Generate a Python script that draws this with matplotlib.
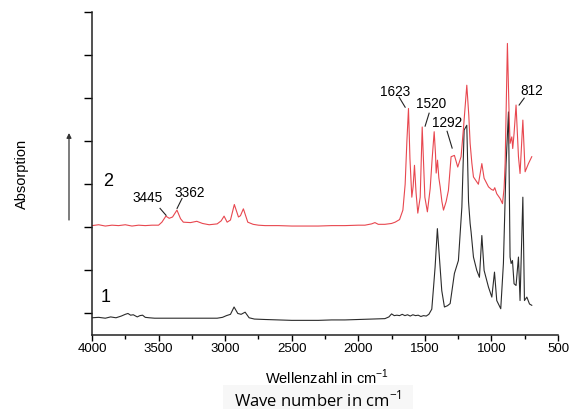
import matplotlib
matplotlib.use("Agg")
import matplotlib.pyplot as plt
from matplotlib.ticker import MultipleLocator

# ---- data (wavenumber in cm^-1, absorption in arbitrary units) ----
red_wn = [4000, 3950, 3900, 3850, 3800, 3750, 3700, 3650, 3600, 3550, 3500, 3475,
          3445, 3420, 3395, 3362, 3335, 3314, 3260, 3213, 3170, 3120, 3060, 3030,
          3008, 2985, 2960, 2931, 2900, 2885, 2863, 2830, 2790, 2750, 2700, 2600,
          2500, 2400, 2300, 2200, 2100, 2000, 1950, 1900, 1875, 1850, 1800, 1750,
          1723, 1690, 1665, 1648, 1635, 1623, 1612, 1598, 1588, 1578, 1566, 1553,
          1535, 1520, 1511, 1500, 1481, 1460, 1445, 1430, 1420, 1415, 1405, 1395,
          1385, 1372, 1360, 1340, 1323, 1303, 1278, 1253, 1228, 1210, 1185, 1170,
          1160, 1147, 1135, 1098, 1072, 1055, 1022, 1000, 985, 975, 960, 935, 917,
          905, 897, 880, 867, 860, 847, 840, 830, 815, 797, 785, 764, 747, 722, 697]
red_ab = [2.04, 2.06, 2.03, 2.05, 2.04, 2.06, 2.03, 2.05, 2.04, 2.05, 2.05, 2.12,
          2.26, 2.21, 2.24, 2.40, 2.20, 2.12, 2.11, 2.14, 2.09, 2.06, 2.08, 2.15,
          2.26, 2.12, 2.17, 2.53, 2.24, 2.27, 2.43, 2.12, 2.07, 2.05, 2.04, 2.04,
          2.03, 2.03, 2.03, 2.04, 2.04, 2.05, 2.05, 2.08, 2.11, 2.07, 2.07, 2.09,
          2.12, 2.18, 2.40, 3.00, 4.00, 4.76, 3.60, 2.70, 2.95, 3.44, 2.80, 2.33,
          2.70, 4.33, 3.60, 2.70, 2.36, 2.90, 3.60, 4.22, 3.70, 3.26, 3.56, 3.15,
          2.94, 2.60, 2.40, 2.60, 2.86, 3.64, 3.67, 3.40, 3.64, 4.30, 5.30, 4.60,
          3.95, 3.49, 3.17, 3.00, 3.48, 3.14, 2.94, 2.88, 2.86, 2.92, 2.78, 2.67,
          2.55, 2.90, 3.49, 6.27, 4.60, 3.95, 4.10, 3.83, 4.18, 4.84, 3.64, 3.25,
          4.49, 3.29, 3.48, 3.64]

black_wn = [4000, 3950, 3900, 3860, 3820, 3780, 3750, 3730, 3710, 3690, 3660, 3640,
            3620, 3600, 3570, 3530, 3480, 3420, 3360, 3300, 3240, 3180, 3120, 3060,
            3020, 2990, 2960, 2933, 2905, 2880, 2850, 2820, 2780, 2700, 2600, 2500,
            2400, 2300, 2200, 2100, 2000, 1900, 1800, 1770, 1750, 1730, 1710, 1690,
            1670, 1650, 1630, 1610, 1590, 1570, 1550, 1530, 1510, 1490, 1470, 1448,
            1435, 1423, 1406, 1391, 1373, 1353, 1330, 1310, 1278, 1248, 1222, 1205,
            1185, 1172, 1160, 1153, 1135, 1110, 1090, 1072, 1055, 1022, 997, 977,
            960, 930, 910, 890, 872, 860, 852, 842, 830, 815, 797, 785, 764, 752,
            734, 714, 697]
black_ab = [-0.10, -0.09, -0.11, -0.08, -0.10, -0.06, -0.02, 0.00, -0.04, -0.03, -0.08, -0.05,
            -0.04, -0.09, -0.10, -0.11, -0.11, -0.11, -0.11, -0.11, -0.11, -0.11, -0.11, -0.11,
            -0.09, -0.05, -0.02, 0.15, 0.00, -0.02, 0.03, -0.10, -0.13, -0.14, -0.15, -0.16,
            -0.16, -0.16, -0.15, -0.15, -0.14, -0.13, -0.12, -0.08, -0.01, -0.05, -0.04, -0.05,
            -0.02, -0.05, -0.03, -0.06, -0.03, -0.05, -0.04, -0.07, -0.05, -0.06, -0.02, 0.10,
            0.60, 1.08, 1.97, 1.31, 0.53, 0.15, 0.18, 0.23, 0.93, 1.23, 2.47, 4.26,
            4.37, 2.60, 2.09, 1.90, 1.31, 1.00, 0.84, 1.81, 1.00, 0.61, 0.38, 0.96,
            0.30, 0.11, 1.16, 3.48, 4.68, 1.31, 1.16, 1.23, 0.69, 0.65, 1.31, 0.30, 2.70, 0.30,
            0.38, 0.22, 0.19]

x_ticks = [4000, 3500, 3000, 2500, 2000, 1500, 1000, 500]
x_ticklabels = ["4000", "3500", "3000", "2500", "2000", "1500", "1000", "500"]

peak_labels = ["3445", "3362", "1623", "1520", "1292", "812"]
# (text position, line start, line end) in data coordinates
peak_text_xy = [(3579, 2.67), (3264, 2.79), (1724, 5.14), (1453, 4.86), (1333, 4.42), (694, 5.16)]
peak_line_from = [(3489, 2.44), (3324, 2.67), (1693, 5.02), (1468, 4.65), (1333, 4.23), (754, 5.00)]
peak_line_to = [(3444, 2.28), (3361, 2.44), (1648, 4.79), (1498, 4.35), (1295, 3.84), (792, 4.84)]

W, H = 569, 409
fig = plt.figure(figsize=(W / 100, H / 100), dpi=100)
ax = fig.add_axes([92 / W, 1 - 335 / H, (558 - 92) / W, (335 - 12) / H])

tick_font = "Liberation Sans"
ax.plot(black_wn, black_ab, color="#2b2b2b", lw=0.8)
ax.plot(red_wn, red_ab, color="#e8474f", lw=0.8)

ax.set_xlim(4000, 500)
ax.set_ylim(-0.5, 7)
ax.set_xticks(x_ticks)
ax.set_xticklabels(x_ticklabels, fontfamily=tick_font, fontsize=9.5)
ax.xaxis.set_minor_locator(MultipleLocator(250))
ax.set_yticks(range(0, 8))
ax.set_yticklabels([])
ax.tick_params(axis="x", which="major", direction="out", length=4, width=1, pad=2)
ax.tick_params(axis="x", which="minor", direction="out", length=3, width=1)
ax.tick_params(axis="y", which="major", direction="out", length=6, width=1)
for s in ("top", "right"):
    ax.spines[s].set_visible(False)
for s in ("left", "bottom"):
    ax.spines[s].set_linewidth(1.1)
    ax.spines[s].set_color("#222222")

ax.text(3900, 0.37, "1", fontsize=13, fontfamily=tick_font, ha="center", va="center")
ax.text(3880, 3.07, "2", fontsize=13, fontfamily=tick_font, ha="center", va="center")

for lab, txy, lf, lt in zip(peak_labels, peak_text_xy, peak_line_from, peak_line_to):
    ax.text(txy[0], txy[1], lab, fontsize=9.8, fontfamily=tick_font, ha="center", va="center")
    ax.plot([lf[0], lt[0]], [lf[1], lt[1]], color="#222222", lw=0.8)

# arrow and y label
ax.annotate("", xy=(69 / W, 1 - 133 / H), xytext=(69 / W, 1 - 220 / H),
            xycoords="figure fraction", textcoords="figure fraction",
            arrowprops=dict(arrowstyle="-|>", color="#333333", lw=0.9,
                            mutation_scale=7, shrinkA=0, shrinkB=0))
fig.text(22 / W, 1 - 174 / H, "Absorption", rotation=90, fontsize=10.5,
         fontfamily=tick_font, ha="center", va="center")

fig.text(327 / W, 1 - 377 / H, "Wellenzahl in cm$^{\\mathregular{-1}}$", fontsize=10.5,
         fontfamily=tick_font, ha="center", va="center")

fig.patches.append(plt.Rectangle((223 / W, 0), (413 - 223) / W, (409 - 385) / H,
                                 transform=fig.transFigure, facecolor="#f7f7f7",
                                 edgecolor="none", zorder=0))
fig.text(318 / W, 1 - 400 / H, "Wave number in cm$^{\\mathregular{-1}}$", fontsize=12,
         fontfamily="Open Sans", ha="center", va="center")

fig.savefig("out.png", dpi=100)
